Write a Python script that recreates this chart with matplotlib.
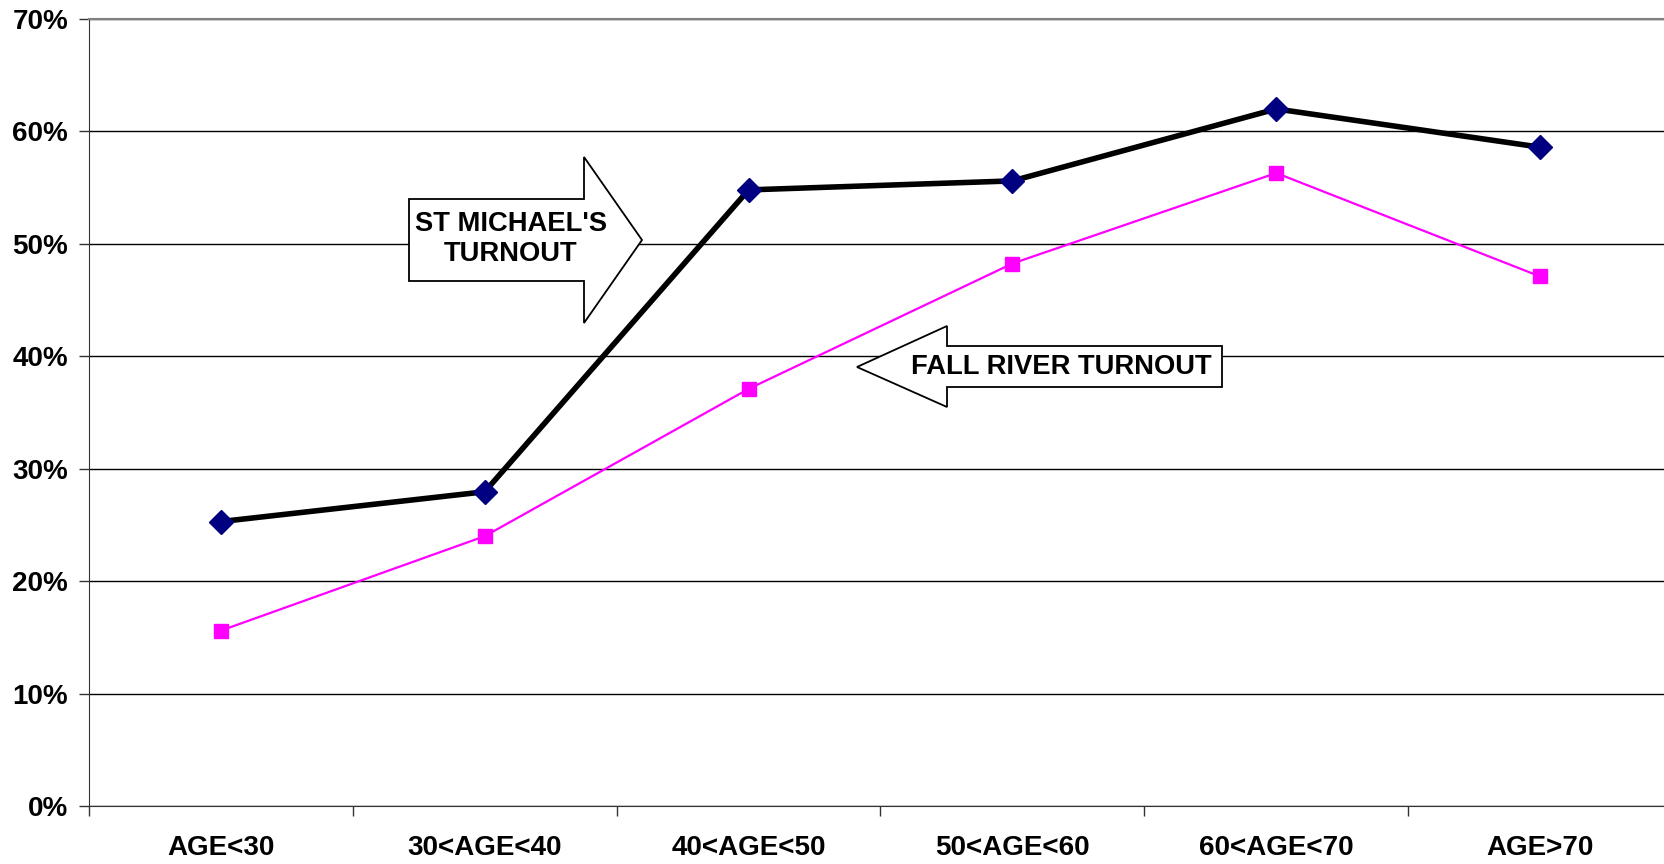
import numpy as np
import matplotlib
matplotlib.use('Agg')
import matplotlib.pyplot as plt
from matplotlib.patches import Polygon

plt.rcParams['font.family'] = ['Liberation Sans', 'DejaVu Sans']

categories = ['AGE<30', '30<AGE<40', '40<AGE<50', '50<AGE<60', '60<AGE<70', 'AGE>70']
st_michael = [25.3, 27.95, 54.8, 55.6, 62.0, 58.6]
fall_river = [15.6, 24.0, 37.1, 48.25, 56.3, 47.1]
yticks = [0, 10, 20, 30, 40, 50, 60, 70]

W, H = 1665, 864
fig = plt.figure(figsize=(W / 100, H / 100), dpi=100)
# plot area runs a few pixels past the right edge, as in the original
ax = fig.add_axes([89 / W, 1 - 806 / H, 1583 / W, (806 - 19) / H])

x = np.arange(len(categories))
ax.plot(x, fall_river, color='#FF00FF', lw=1.6, marker='s', ms=9.5,
        mfc='#FF00FF', mec='#FF00FF', zorder=3)
ax.plot(x, st_michael, color='black', lw=4, marker='D', ms=12,
        mfc='#000080', mec='#000080', zorder=4)

ax.set_xlim(-0.5, len(categories) - 0.5)
ax.set_ylim(0, 70)
ax.set_yticks(yticks)
ax.set_yticklabels(['%d%%' % v for v in yticks])
ax.yaxis.grid(True, color='black', lw=1)
ax.set_axisbelow(True)

# category boundaries get the tick marks, centres get the labels
ax.set_xticks(np.arange(-0.5, len(categories), 1.0))
ax.set_xticklabels([])
ax.set_xticks(x, minor=True)
ax.set_xticklabels(categories, minor=True)
ax.tick_params(axis='x', which='major', length=7, width=1, color='#333333', direction='out')
ax.tick_params(axis='x', which='minor', length=0, pad=21)
ax.tick_params(axis='y', length=7, width=1, color='#333333', direction='out', pad=8)
for lab in ax.get_xticklabels(minor=True) + ax.get_yticklabels():
    lab.set_fontsize(20)
    lab.set_fontweight('bold')

ax.spines['right'].set_visible(False)
ax.spines['top'].set_color('#808080')
ax.spines['top'].set_linewidth(1.5)
ax.spines['left'].set_color('#333333')
ax.spines['bottom'].set_color('#333333')


def px(pts):
    # pixel coords (origin top-left) -> figure fraction
    return [(a / W, 1 - b / H) for a, b in pts]


# ST MICHAEL'S arrow pointing right
arrow1 = [(409, 199), (584, 199), (584, 157), (642, 240), (584, 323), (584, 281), (409, 281)]
fig.patches.append(Polygon(px(arrow1), closed=True, fc='white', ec='black', lw=1.3,
                           transform=fig.transFigure, zorder=10))
fig.text(511 / W, 1 - 239 / H, "ST MICHAEL'S\nTURNOUT", ha='center', va='center',
         fontsize=19.7, fontweight='bold', linespacing=1.22, zorder=11)

# FALL RIVER arrow pointing left
arrow2 = [(1222, 346), (947, 346), (947, 326), (857, 367), (947, 407), (947, 387), (1222, 387)]
fig.patches.append(Polygon(px(arrow2), closed=True, fc='white', ec='black', lw=1.3,
                           transform=fig.transFigure, zorder=10))
fig.text(1061 / W, 1 - 367 / H, 'FALL RIVER TURNOUT', ha='center', va='center',
         fontsize=19.7, fontweight='bold', zorder=11)

fig.savefig('out.png', dpi=100)
